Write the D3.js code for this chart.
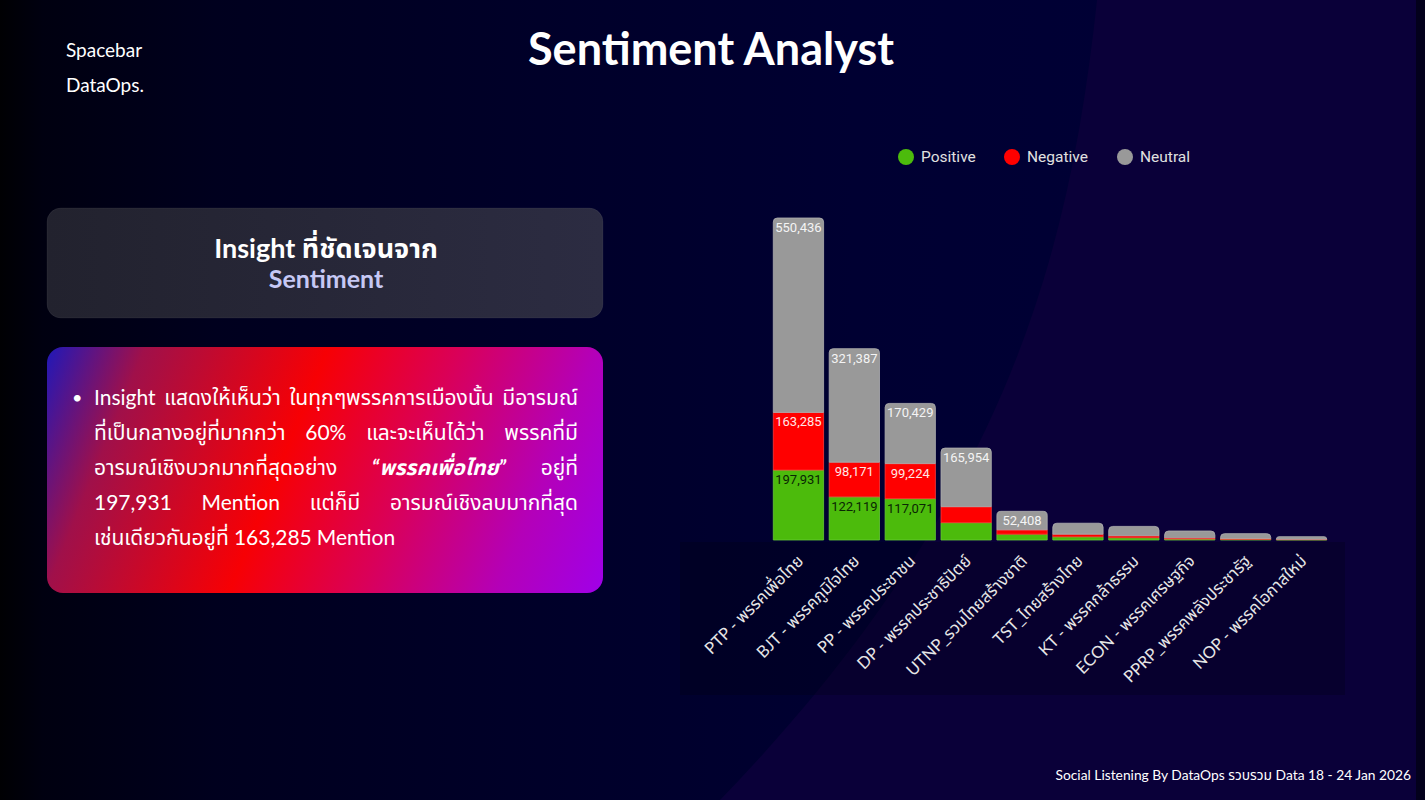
<!DOCTYPE html>
<html>
<head>
<meta charset="utf-8">
<script src="https://cdn.jsdelivr.net/npm/d3@7/dist/d3.min.js"></script>
<style>
  body { margin: 0; background: #000; overflow: hidden; }
  svg { display: block; }
</style>
</head>
<body>
<div id="chart"></div>
<script>
// ข้อมูล sentiment ต่อพรรค
const parties = ['PTP - พรรคเพื่อไทย', 'BJT - พรรคภูมิใจไทย', 'PP - พรรคประชาชน', 'DP - พรรคประชาธิปัตย์',
  'UTNP_รวมไทยสร้างชาติ', 'TST_ไทยสร้างไทย', 'KT - พรรคกล้าธรรม', 'ECON - พรรคเศรษฐกิจ',
  'PPRP_พรรคพลังประชารัฐ', 'NOP - พรรคโอกาสใหม่'];
const positive = [197931, 122119, 117071, 49000, 16500, 9000, 6500, 2800, 1800, 900];
const negative = [163285, 98171, 99224, 45300, 12300, 7500, 5500, 3300, 2200, 1200];
const neutral  = [550436, 321387, 170429, 165954, 52408, 31000, 26500, 19400, 14000, 7300];

const legendNames = ['Positive', 'Negative', 'Neutral'];

const insightLines = [
  ['Insight', 'แสดงให้เห็นว่า', 'ในทุกๆพรรคการเมืองนั้น', 'มีอารมณ์'],
  ['ที่เป็นกลางอยู่ที่มากกว่า', '60%', 'และจะเห็นได้ว่า', 'พรรคที่มี'],
  ['อารมณ์เชิงบวกมากที่สุดอย่าง', '*“พรรคเพื่อไทย”', 'อยู่ที่'],
  ['197,931', 'Mention', 'แต่ก็มี', 'อารมณ์เชิงลบมากที่สุด'],
  ['เช่นเดียวกันอยู่ที่', '163,285', 'Mention']
];

const W = 1425, H = 800;
const FONT = 'Lato, "Noto Sans Thai", "Noto Sans", sans-serif';
const PLEX = 'Roboto, "Noto Sans Thai", sans-serif';

const svg = d3.select('#chart').append('svg').attr('width', W).attr('height', H);
const defs = svg.append('defs');

// ---------- background ----------
const bg = defs.append('linearGradient').attr('id', 'bg').attr('x1', 0).attr('x2', 1).attr('y1', 0).attr('y2', 0);
[[0, '#000003'], [0.03, '#000010'], [0.15, '#00001e'], [0.4, '#00002a'], [0.6, '#000032'], [1, '#000038']]
  .forEach(s => bg.append('stop').attr('offset', s[0]).attr('stop-color', s[1]));
svg.append('rect').attr('width', W).attr('height', H).attr('fill', 'url(#bg)');
svg.append('path')
  .attr('d', 'M1097,0 C1070,250 1010,500 720,800 L1425,800 L1425,0 Z')
  .attr('fill', '#0a0039');
svg.append('rect').attr('x', 1416).attr('width', 9).attr('height', H).attr('fill', '#03001c');

// ---------- header ----------
svg.append('text').attr('x', 66).attr('y', 57).attr('fill', '#fff')
  .style('font-family', FONT).style('font-size', '19px').text('Spacebar');
svg.append('text').attr('x', 66).attr('y', 92).attr('fill', '#fff')
  .style('font-family', FONT).style('font-size', '19px').text('DataOps.');
svg.append('text').attr('x', 711).attr('y', 65).attr('fill', '#fff').attr('text-anchor', 'middle')
  .style('font-family', FONT).style('font-size', '45px').style('font-weight', 700).text('Sentiment Analyst');

// ---------- left boxes ----------
const g1 = defs.append('linearGradient').attr('id', 'box1').attr('x1', 0).attr('x2', 1);
g1.append('stop').attr('offset', 0).attr('stop-color', '#22222e');
g1.append('stop').attr('offset', 1).attr('stop-color', '#2c2c42');
svg.append('rect').attr('x', 47).attr('y', 208).attr('width', 556).attr('height', 110).attr('rx', 14)
  .attr('fill', 'url(#box1)').attr('stroke', 'rgba(255,255,255,0.05)');
svg.append('text').attr('x', 326).attr('y', 258).attr('text-anchor', 'middle').attr('fill', '#fff')
  .style('font-family', FONT).style('font-size', '27px').style('font-weight', 700).text('Insight ที่ชัดเจนจาก');
svg.append('text').attr('x', 326).attr('y', 288).attr('text-anchor', 'middle').attr('fill', '#c6c8f4')
  .style('font-family', FONT).style('font-size', '25px').style('font-weight', 700).text('Sentiment');

// box 2 gradient runs across the box, red band tilted
const g2 = defs.append('linearGradient').attr('id', 'box2').attr('gradientUnits', 'userSpaceOnUse')
  .attr('x1', 47).attr('y1', 347).attr('x2', 609).attr('y2', 575);
[[0, '#2018b8'], [0.15, '#a0104a'], [0.43, '#f70004'], [0.63, '#da0058'], [0.84, '#b400b8'], [1, '#a000e8']]
  .forEach(s => g2.append('stop').attr('offset', s[0]).attr('stop-color', s[1]));
svg.append('rect').attr('x', 47).attr('y', 347).attr('width', 556).attr('height', 246).attr('rx', 16)
  .attr('fill', 'url(#box2)');

const tg = svg.append('g').style('font-family', FONT).style('font-size', '21px').attr('fill', '#fff');
tg.append('text').attr('x', 72).attr('y', 404).style('font-size', '18px').text('•');
const tx0 = 94, tx1 = 578;
insightLines.forEach((words, li) => {
  const yb = 405 + li * 35;
  const nodes = words.map(w => {
    const strong = w.startsWith('*');
    return tg.append('text').attr('y', yb)
      .style('font-weight', strong ? 700 : 400)
      .style('font-style', strong ? 'italic' : 'normal')
      .text(strong ? w.slice(1) : w);
  });
  const widths = nodes.map(n => n.node().getComputedTextLength());
  const last = li === insightLines.length - 1;
  const gap = last ? 5 : (tx1 - tx0 - d3.sum(widths)) / (words.length - 1);
  let cx = tx0;
  nodes.forEach((n, i) => { n.attr('x', cx); cx += widths[i] + gap; });
});

// ---------- chart ----------
const keys = ['positive', 'negative', 'neutral'];
const colors = { positive: '#4cbb0c', negative: '#ff0000', neutral: '#999999' };
const strokes = { positive: '#66cc33', negative: '#ff3a3a', neutral: '#b0b0b0' };
const labelColors = { positive: '#0a2604', negative: '#ffe6e6', neutral: '#f4f4f4' };

const rows = parties.map((p, i) => ({ party: p, positive: positive[i], negative: negative[i], neutral: neutral[i] }));
const series = d3.stack().keys(keys)(rows);

const x = d3.scaleBand().domain(parties).range([770.5, 1329.5]).paddingInner(0.1).paddingOuter(0.05);
const y = d3.scaleLinear()
  .domain([0, d3.max(rows, d => d.positive + d.negative + d.neutral)])
  .range([540, 218]);

// label strip behind axis
svg.append('rect').attr('x', 680).attr('y', 542).attr('width', 665).attr('height', 153)
  .attr('fill', 'rgba(0,0,10,0.22)');

function topRounded(x0, y0, w, h, r) {
  r = Math.min(r, h, w / 2);
  return `M${x0},${y0 + h}V${y0 + r}Q${x0},${y0} ${x0 + r},${y0}H${x0 + w - r}Q${x0 + w},${y0} ${x0 + w},${y0 + r}V${y0 + h}Z`;
}

const layers = svg.append('g').selectAll('g').data(series).join('g')
  .attr('fill', d => colors[d.key]).attr('stroke', d => strokes[d.key]).attr('stroke-width', 0.8);

layers.selectAll('path').data(d => d).join('path')
  .attr('d', function (d) {
    const key = d3.select(this.parentNode).datum().key;
    const x0 = x(d.data.party), w = x.bandwidth();
    const y0 = y(d[1]), h = y(d[0]) - y(d[1]);
    return key === 'neutral' ? topRounded(x0, y0, w, h, 4) : `M${x0},${y0}h${w}v${h}h${-w}Z`;
  });

const lab = svg.append('g').style('font-family', PLEX).style('font-size', '13px').style('font-weight', 400)
  .attr('text-anchor', 'middle');
series.forEach(s => {
  s.forEach(d => {
    const h = y(d[0]) - y(d[1]);
    if (h < 18) return;
    lab.append('text')
      .attr('x', x(d.data.party) + x.bandwidth() / 2)
      .attr('y', y(d[1]) + 14)
      .attr('fill', labelColors[s.key])
      .text(d3.format(',')(d.data[s.key]));
  });
});

// x axis
const xAxis = d3.axisBottom(x).tickSize(0);
const ax = svg.append('g').attr('transform', 'translate(0,540)').call(xAxis);
ax.select('.domain').remove();
ax.selectAll('text')
  .attr('x', 0).attr('y', 0).attr('dy', '0.35em')
  .attr('transform', 'translate(2,18) rotate(-45)')
  .style('text-anchor', 'end')
  .style('font-family', FONT).style('font-size', '16.5px').attr('fill', '#e6e6e6');

// legend
const lg = svg.append('g').style('font-family', PLEX).style('font-size', '15.5px');
const legendX = [906, 1012, 1125];
legendNames.forEach((n, i) => {
  lg.append('circle').attr('cx', legendX[i]).attr('cy', 157).attr('r', 8).attr('fill', colors[keys[i]]);
  lg.append('text').attr('x', legendX[i] + 15).attr('y', 162).attr('fill', '#e0e0e0').text(n);
});

// footer
svg.append('text').attr('x', 1411).attr('y', 780).attr('text-anchor', 'end').attr('fill', '#fff')
  .style('font-family', FONT).style('font-size', '13.8px')
  .text('Social Listening By DataOps รวบรวม Data 18 - 24 Jan 2026');
</script>
</body>
</html>
